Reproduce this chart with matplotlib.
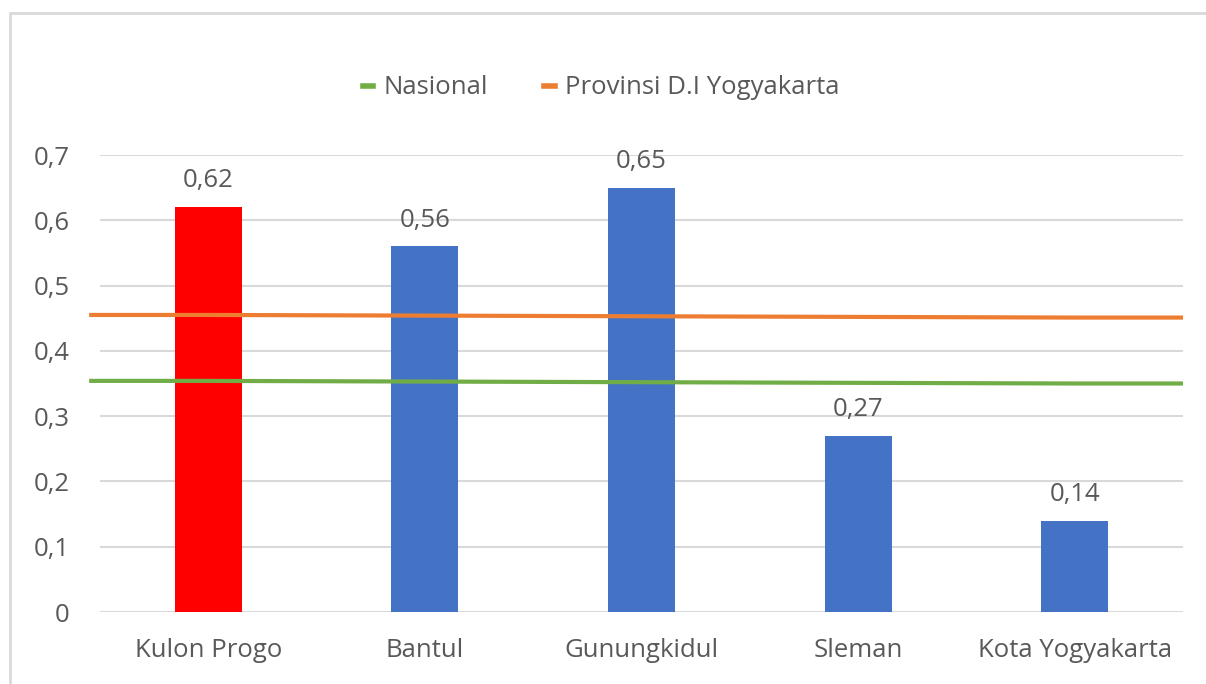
import matplotlib.pyplot as plt
import numpy as np
from matplotlib.patches import Rectangle
from matplotlib.ticker import FuncFormatter, MultipleLocator
from matplotlib.lines import Line2D

# Data
kabupaten = ['Kulon Progo', 'Bantul', 'Gunungkidul', 'Sleman', 'Kota Yogyakarta']
nilai = [0.62, 0.56, 0.65, 0.27, 0.14]
warna = ['#FF0000', '#4472C4', '#4472C4', '#4472C4', '#4472C4']
nasional = [0.354, 0.353, 0.352, 0.351, 0.350]
provinsi = [0.455, 0.454, 0.453, 0.452, 0.451]

plt.rcParams['font.family'] = ['Open Sans', 'DejaVu Sans']
grey = '#595959'
fs = 18.5

fig = plt.figure(figsize=(12.06, 6.84), dpi=100)
ax = fig.add_axes([100 / 1206, 1 - 612 / 684, 1083 / 1206, 457 / 684])

x = np.arange(len(kabupaten))
bars = ax.bar(x, nilai, width=0.31, color=warna, zorder=3)
for xi, v in zip(x, nilai):
    ax.annotate(f'{v:.2f}'.replace('.', ','), (xi, v), xytext=(0, 10),
                textcoords='offset points', ha='center', va='bottom',
                fontsize=fs, color=grey)

# reference lines span the whole plot width
xl = np.concatenate([[-0.55], x, [4.5]])
ax.plot(xl, [nasional[0]] + nasional + [nasional[-1]], color='#70AD47',
        lw=3, zorder=4, solid_capstyle='butt', clip_on=False)
ax.plot(xl, [provinsi[0]] + provinsi + [provinsi[-1]], color='#ED7D31',
        lw=3, zorder=4, solid_capstyle='butt', clip_on=False)

ax.set_xlim(-0.5, 4.5)
ax.set_ylim(0, 0.7)
ax.yaxis.set_major_locator(MultipleLocator(0.1))
ax.yaxis.set_major_formatter(FuncFormatter(
    lambda v, p: '0' if abs(v) < 1e-9 else f'{v:.1f}'.replace('.', ',')))
ax.set_xticks(x)
ax.set_xticklabels(kabupaten)
ax.tick_params(axis='both', length=0, labelsize=fs, labelcolor=grey)
ax.tick_params(axis='x', pad=19)
ax.tick_params(axis='y', pad=22)
ax.grid(axis='y', color='#D9D9D9', lw=1.5, zorder=0)
for s in ax.spines.values():
    s.set_visible(False)

handles = [Line2D([], [], color='#70AD47', lw=4),
           Line2D([], [], color='#ED7D31', lw=4)]
fig.legend(handles, ['Nasional', 'Provinsi D.I Yogyakarta'], loc='center',
           bbox_to_anchor=(601 / 1206, 1 - 88 / 684), ncol=2, frameon=False,
           fontsize=fs, handlelength=0.4, handletextpad=0.4, columnspacing=2.2,
           labelcolor=grey)

fig.patches.append(Rectangle((10 / 1206, -0.2), 1.2, 1.2 - 13 / 684,
                             transform=fig.transFigure, fill=False,
                             edgecolor='#D9D9D9', lw=2))

fig.savefig('out.png', dpi=100)
